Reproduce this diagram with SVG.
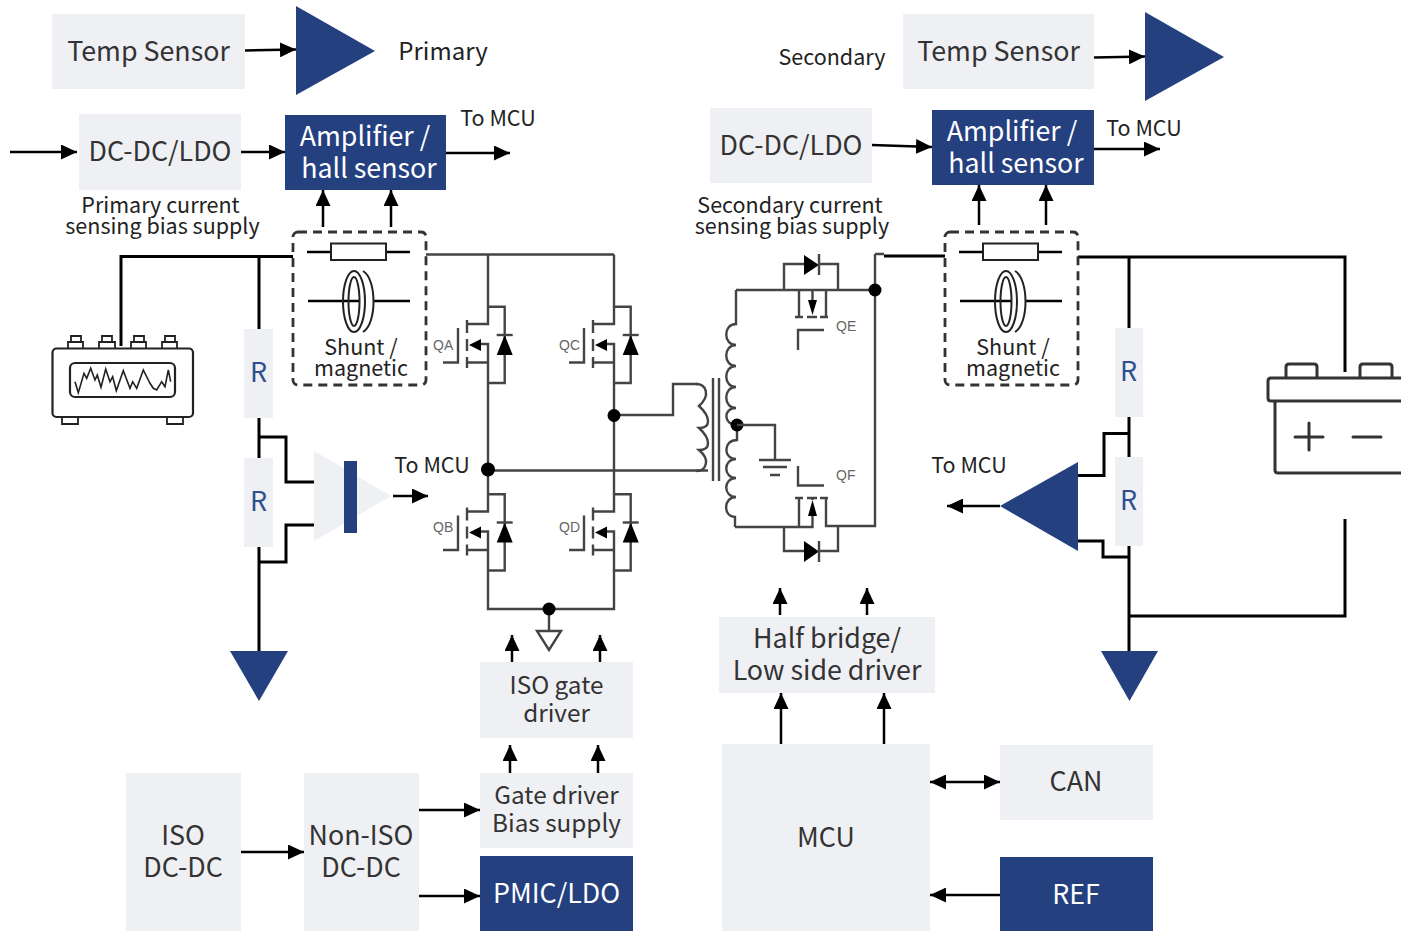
<svg xmlns="http://www.w3.org/2000/svg" width="1401" height="931" viewBox="0 0 1401 931">
<style>
text{font-family:"Noto Sans CJK SC","Noto Sans",sans-serif;text-anchor:middle;fill:#333}
.b{fill:#eff0f4}
.d{fill:#24407f}
.t{font-size:26.800px}
.h{font-size:24.300px}
.w{fill:#fff}
.r{fill:#2f4f8f;font-size:27px}
.l{font-size:21.500px;fill:#222}
.s{font-size:21.500px;fill:#222}
.c{fill:none;stroke:#000;stroke-width:3}
.a{fill:none;stroke:#000;stroke-width:2.500;marker-end:url(#ah)}
.g{fill:none;stroke:#444;stroke-width:2.400}
.k{fill:none;stroke:#222;stroke-width:2.200}
.y{fill:#000}
.q{font-family:"Liberation Sans",sans-serif;font-size:14px;fill:#666;text-anchor:start}
.dash{fill:none;stroke:#333;stroke-width:2.800;stroke-dasharray:9 6}
.bat{fill:none;stroke:#333;stroke-width:3;stroke-linejoin:round;stroke-linecap:round}
</style>
<defs>
<marker id="ah" markerUnits="userSpaceOnUse" markerWidth="17" markerHeight="15" refX="16" refY="7.500" orient="auto-start-reverse"><path d="M0,0L16,7.500L0,15Z" fill="#000"/></marker>
<g id="fet">
<path class="g" d="M488,306.700H504.700V383H488M488,306.700V324H467M488,383V344H476M467,362.500H488M443,362.500H458V328"/>
<path class="g" d="M467,320V333M467,339V351M467,357V368"/>
<path class="y" d="M469,345L481,339V351ZM504.700,335L512.700,355H496.700Z"/>
<path class="g" d="M496.700,335H512.700"/>
</g>
<g id="shunt">
<rect class="dash" x="293" y="232" width="133" height="153" rx="5"/>
<path class="c" d="M307,252H331M386,252H410M308,301H360M374,301H410" style="stroke-width:2.400"/>
<rect x="331" y="243.500" width="55" height="16.500" fill="#fff" stroke="#222" stroke-width="2"/>
<ellipse class="k" cx="354" cy="301.500" rx="11" ry="30.500" style="stroke-width:2"/>
<ellipse class="k" cx="354" cy="301.500" rx="5.500" ry="24.500" style="stroke-width:2"/>
<path class="k" style="stroke-width:2" d="M363,271C370,275 373.500,288 373.500,301.500C373.500,315 370,328 363,332"/>
<text class="s" x="361" y="355">Shunt /</text>
<text class="s" x="361" y="376">magnetic</text>
</g>
</defs>

<g id="connectors">
<path class="a" d="M245,50.500L296,49.500"/>
<path class="a" d="M1094,57.500L1145,56.500"/>
<path class="a" d="M10,152H77"/>
<path class="a" d="M241,152H285"/>
<path class="a" d="M446,153H510"/>
<path class="a" d="M872,145L932,147"/>
<path class="a" d="M1094,149H1160"/>
<path class="a" d="M323,227V190"/>
<path class="a" d="M391,227V190"/>
<path class="a" d="M979,225V185"/>
<path class="a" d="M1046,225V185"/>
<path class="a" d="M512,662V635"/>
<path class="a" d="M600,662V635"/>
<path class="a" d="M510,773V745"/>
<path class="a" d="M598,773V745"/>
<path class="a" d="M780,615V588"/>
<path class="a" d="M867,615V588"/>
<path class="a" d="M781,744V693"/>
<path class="a" d="M884,744V693"/>
<path class="a" d="M241,852H304"/>
<path class="a" d="M419,810H480"/>
<path class="a" d="M419,896H480"/>
<path class="a" style="marker-start:url(#ah)" d="M930,782H1000"/>
<path class="a" d="M1000,895H930"/>
<path class="a" d="M393,496H428"/>
<path class="a" d="M1000,506H947"/>
<path class="c" d="M121,346V256.500H293M259,256.500V329M259,418V458M259,437H286V482H314M259,547V651M259,562H286V525H314"/>
<path class="c" d="M884,256H945M1078,257H1345V372M1129,257V329M1129,417V457M1129,433.500H1104V475.500H1078M1129,546V651M1129,557H1103V541H1078M1129,616H1345V519"/>
</g>

<g id="full-bridge">
<path class="g" d="M426,254.500H614M488,254.500V307M614,254.500V307M488,383V494.500M614,383V494.500M488,570V609H614V570M549,609V631"/>
<use href="#fet"/>
<use href="#fet" x="126"/>
<use href="#fet" y="187.500"/>
<use href="#fet" x="126" y="187.500"/>
<path class="g" d="M488,470.500H708M614,415H673V384H698"/>
<circle class="y" cx="488" cy="469.500" r="7"/>
<circle class="y" cx="614" cy="415.500" r="6.500"/>
<circle class="y" cx="549" cy="609" r="6.500"/>
<path class="g" d="M537,631H561L549,650Z"/>
<text class="q" x="433" y="350">QA</text>
<text class="q" x="559" y="350">QC</text>
<text class="q" x="433" y="532">QB</text>
<text class="q" x="559" y="532">QD</text>
</g>

<g id="transformer">
<path class="g" d="M696,384C706,384 711,395 699,406C711,417 711,428 699,428C711,439 711,450 699,450C711,460 706,471 696,471" fill="none"/>
<path class="g" d="M713,378V481M719,378V481"/>
<path class="g" d="M736,290V324C723,324 723,345 736,345C723,345 723,366 736,366C723,366 723,387 736,387C723,387 723,408 736,408C723,408 723,425 737,425V440C723,440 723,459 736,459C723,459 723,478 736,478C723,478 723,497 736,497C723,497 723,517 735,517V527"/>
<circle class="y" cx="737" cy="425" r="6.500"/>
<path class="g" d="M737,425H775V460M759,460H791M763,467H787M770,475H780"/>
</g>

<g id="secondary-fets">
<path class="g" d="M736,290H875M875,254H884M875,254V526H826V498M784,290V264H804M819,264H838V290"/>
<path class="y" d="M804,255L819,265L804,275ZM808,300H817L812.500,315ZM804,541L819,551.500L804,562ZM808,516H817L812.500,500Z"/>
<path class="g" d="M819,254V275M799,290V317M812.500,290V300M826,290V317M795,317H803M807,317H817M820,317H828M798,350V330H824"/>
<circle class="y" cx="875" cy="290" r="6.500"/>
<path class="g" d="M735,527H812.500V516M799,527V498M795,498H803M807,498H817M820,498H828M812.500,500V498M798,466V485.500H824"/>
<path class="g" d="M784,527V551H804M819,551H838V526M819,541V562"/>
<text class="q" x="836" y="331">QE</text>
<text class="q" x="836" y="480">QF</text>
</g>

<g id="temp-primary"><rect class="b" x="52" y="14" width="193" height="75"/><text class="t" x="148.500" y="61">Temp Sensor</text></g>
<g id="amp-tri-1"><path class="d" d="M296,6L375,51L296,95Z"/></g>
<g id="label-primary"><text class="s" x="443" y="60" style="font-size:24px">Primary</text></g>
<g id="label-secondary"><text class="l" x="832" y="65">Secondary</text></g>
<g id="temp-secondary"><rect class="b" x="903" y="14" width="191" height="75"/><text class="t" x="998.500" y="61">Temp Sensor</text></g>
<g id="amp-tri-2"><path class="d" d="M1145,12L1224,57L1145,101Z"/></g>

<g id="dcdc-primary"><rect class="b" x="79" y="114" width="162" height="76"/><text class="t" x="160" y="161">DC-DC/LDO</text></g>
<g id="amp-primary"><rect class="d" x="285" y="115" width="161" height="75"/><text class="t w" x="365" y="146">Amplifier /</text><text class="t w" x="369" y="178">hall sensor</text></g>
<g id="dcdc-secondary"><rect class="b" x="710" y="108" width="162" height="75"/><text class="t" x="791" y="155">DC-DC/LDO</text></g>
<g id="amp-secondary"><rect class="d" x="932" y="110" width="162" height="75"/><text class="t w" x="1012" y="141">Amplifier /</text><text class="t w" x="1016" y="173">hall sensor</text></g>

<g id="labels">
<text class="l" x="498" y="126">To MCU</text>
<text class="l" x="1144" y="136">To MCU</text>
<text class="l" x="160.500" y="213">Primary current</text>
<text class="l" x="162.500" y="234">sensing bias supply</text>
<text class="l" x="790" y="213">Secondary current</text>
<text class="l" x="792" y="234">sensing bias supply</text>
<text class="l" x="432" y="473">To MCU</text>
<text class="l" x="969" y="473">To MCU</text>
</g>

<g id="shunt-primary"><use href="#shunt"/></g>
<g id="shunt-secondary"><use href="#shunt" x="652"/></g>

<g id="oscilloscope">
<rect class="k" x="52.500" y="348.500" width="140.500" height="68.500" rx="4"/>
<rect class="k" x="70" y="363" width="105" height="34" rx="5"/>
<path class="k" style="stroke-width:1.800" d="M68,348V342H83V348M71,342V336H81V342M99,348V342H115V348M102,342V336H112V342M131,348V342H146V348M134,342V336H144V342M162,348V342H177V348M165,342V336H175V342M62,417V424H78V417M167,417V424H183V417"/>
<path class="k" style="stroke-width:1.600" d="M75,381.700L78.300,392.700L84,373.300L86.700,378.300L90.700,368.300L95,380L97.300,375L101,387.300L105.700,369L110,381.700L112.700,376.700L116.300,390.700L123.300,370.700L130,388.300L132.700,381.700L136.700,388.300L143.300,370L150,383.300L153.300,388.300L156.700,390L161.700,381.700L165,386.700L168.300,370L170.700,381.700"/>
</g>

<g id="r1"><rect class="b" x="244" y="329" width="29" height="89"/><text class="r" x="258.500" y="382">R</text></g>
<g id="r2"><rect class="b" x="244" y="458" width="29" height="89"/><text class="r" x="258.500" y="511">R</text></g>
<g id="diff-amp-primary"><path class="b" d="M314,451L391,496L314,541Z"/><rect class="d" x="344" y="461" width="13" height="72"/></g>
<g id="gnd-primary"><path class="d" d="M230,651H288L259,701Z"/></g>

<g id="r3"><rect class="b" x="1115" y="328" width="28" height="89"/><text class="r" x="1128.500" y="381">R</text></g>
<g id="r4"><rect class="b" x="1115" y="457" width="28" height="89"/><text class="r" x="1128.500" y="510">R</text></g>
<g id="diff-amp-secondary"><path class="d" d="M1078,462L1000,506L1078,551Z"/></g>
<g id="gnd-secondary"><path class="d" d="M1101,651H1158L1129.500,701Z"/></g>

<g id="battery">
<path class="bat" d="M1405,378H1271Q1268,378 1268,381V398Q1268,401 1271,401H1405M1275,401V470Q1275,473 1278,473H1405M1286,378V367Q1286,364 1289,364H1314Q1317,364 1317,367V378M1360,378V367Q1360,364 1363,364H1389Q1392,364 1392,367V378M1295,437H1323M1309,423V450M1353,437H1381"/>
</g>

<g id="iso-gate"><rect class="b" x="480" y="662" width="153" height="76"/><text class="h" x="556.500" y="694">ISO gate</text><text class="h" x="556.500" y="722">driver</text></g>
<g id="half-bridge"><rect class="b" x="719" y="617" width="216" height="76"/><text class="t" x="827" y="648">Half bridge/</text><text class="t" x="827" y="680">Low side driver</text></g>
<g id="gate-bias"><rect class="b" x="480" y="773" width="153" height="75"/><text class="h" x="556.500" y="804">Gate driver</text><text class="h" x="556.500" y="832">Bias supply</text></g>
<g id="pmic"><rect class="d" x="480" y="856" width="153" height="75"/><text class="t w" x="556.500" y="903">PMIC/LDO</text></g>
<g id="mcu"><rect class="b" x="722" y="744" width="208" height="187"/><text class="t" x="826" y="847">MCU</text></g>
<g id="can"><rect class="b" x="1000" y="745" width="153" height="75"/><text class="t" x="1076" y="791">CAN</text></g>
<g id="ref"><rect class="d" x="1000" y="857" width="153" height="74"/><text class="t w" x="1076" y="904">REF</text></g>
<g id="iso-dcdc"><rect class="b" x="126" y="773" width="115" height="158"/><text class="t" x="183" y="845">ISO</text><text class="t" x="183" y="877">DC-DC</text></g>
<g id="non-iso"><rect class="b" x="304" y="773" width="115" height="158"/><text class="t" x="361" y="845">Non-ISO</text><text class="t" x="361" y="877">DC-DC</text></g>
</svg>
